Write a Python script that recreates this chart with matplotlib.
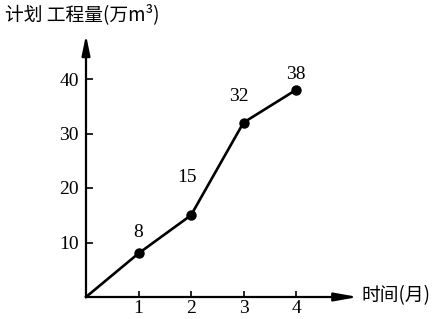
import matplotlib
matplotlib.use("Agg")
import matplotlib.pyplot as plt

months = [0, 1, 2, 3, 4]
volume = [0, 8, 15, 32, 38]
point_labels = ["", "8", "15", "32", "38"]
xticks = [1, 2, 3, 4]
yticks = [10, 20, 30, 40]

serif = ["Liberation Serif", "DejaVu Serif"]
cjk = ["Noto Sans CJK SC", "DejaVu Sans"]

fig = plt.figure(figsize=(4.4, 3.19), dpi=100)
ax = fig.add_axes([86/440, 22/319, 272/440, 262/319])
ax.set_xlim(0, 272/52.5)
ax.set_ylim(0, 262/5.45)
for s in ax.spines.values():
    s.set_visible(False)

# axes with arrows
ax.annotate("", xy=(1.0, 0), xytext=(0, 0), xycoords="axes fraction",
            arrowprops=dict(arrowstyle="-|>,head_length=1.4,head_width=0.25",
                            lw=1.6, color="black", shrinkA=0, shrinkB=0))
ax.annotate("", xy=(0, 1.0), xytext=(0, 0), xycoords="axes fraction",
            arrowprops=dict(arrowstyle="-|>,head_length=1.2,head_width=0.25",
                            lw=1.6, color="black", shrinkA=0, shrinkB=0))

ax.plot(months, volume, color="black", lw=1.9, marker="o", markersize=6.5,
        markevery=[1, 2, 3, 4], clip_on=False)

offsets = {1: (0, 15), 2: (-3, 27), 3: (-3, 19), 4: (0, 11)}
for i in range(1, len(months)):
    ax.annotate(point_labels[i], (months[i], volume[i]), textcoords="offset points",
                xytext=offsets[i], ha="center", va="center", fontsize=14, family=serif)

ax.set_xticks(xticks)
ax.set_xticklabels([str(t) for t in xticks], family=serif, fontsize=14)
ax.set_yticks(yticks)
ax.set_yticklabels([str(t) for t in yticks], family=serif, fontsize=14)
ax.tick_params(axis="x", direction="in", length=4, width=1.2, pad=2)
ax.tick_params(axis="y", direction="in", length=5, width=1.2, pad=5)

fig.text(5/440, 1 - 15/319, "计划 工程量(万m³)", family=cjk, fontsize=13.5,
         va="center", ha="left")
fig.text(361/440, 1 - 296/319, "时间(月)", family=cjk, fontsize=13.5,
         va="center", ha="left")

fig.savefig("out.png", dpi=100, facecolor="white")
